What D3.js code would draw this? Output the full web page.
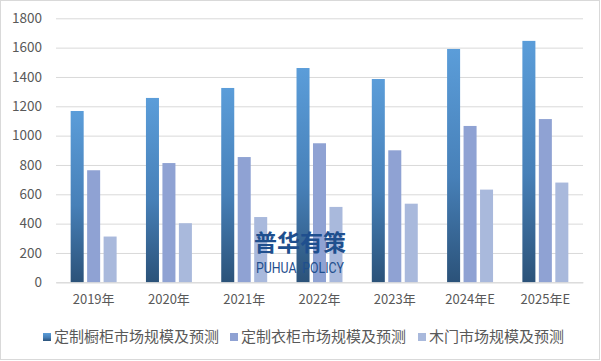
<!DOCTYPE html>
<html><head><meta charset="utf-8">
<script src="https://cdn.jsdelivr.net/npm/d3@7"></script>
<style>body{margin:0;background:#fff}svg{display:block}</style>
</head><body>
<svg id="c" width="601" height="361"></svg>
<script>
const categories = ["2019年","2020年","2021年","2022年","2023年","2024年E","2025年E"];
const seriesNames = ["定制橱柜市场规模及预测","定制衣柜市场规模及预测","木门市场规模及预测"];
const cabinet = [1168, 1257, 1325, 1461, 1386, 1591, 1646];
const wardrobe = [764, 813, 854, 948, 900, 1066, 1113];
const woodDoor = [312, 403, 445, 514, 536, 632, 680];
const yTicks = [0,200,400,600,800,1000,1200,1400,1600,1800];
const seriesValues = [cabinet, wardrobe, woodDoor];
const colors = ["url(#g0)","#8fa2d3","#a9b9dc"];

(function(){
const svg = d3.select("#c");
const W = 601, H = 361;
svg.append("rect").attr("x",0.5).attr("y",0.5).attr("width",W-2).attr("height",H-2)
  .attr("fill","#fff").attr("stroke","#d9d9d9");

const defs = svg.append("defs");
const g0 = defs.append("linearGradient").attr("id","g0").attr("x1",0).attr("y1",0).attr("x2",0).attr("y2",1);
g0.append("stop").attr("offset","0%").attr("stop-color","#5b9dd9");
g0.append("stop").attr("offset","55%").attr("stop-color","#4780b8");
g0.append("stop").attr("offset","100%").attr("stop-color","#2b5279");

const pL = 56, pR = 583, pT = 18.3, pB = 282.3;
const y = d3.scaleLinear().domain([0,1800]).range([pB, pT]);
const x0 = d3.scaleBand().domain(categories).range([pL,pR]).padding(0);
const x1 = d3.scaleBand().domain(d3.range(3)).range([0,x0.bandwidth()]).paddingInner(0.21).paddingOuter(0.89);

const font = "'Noto Sans CJK SC', 'Liberation Sans', sans-serif";

const yAxis = d3.axisLeft(y).tickValues(yTicks).tickSize(-(pR-pL)).tickPadding(14).tickFormat(d3.format("d"));
const ya = svg.append("g").attr("transform",`translate(${pL},0)`).call(yAxis);
ya.select(".domain").remove();
ya.selectAll(".tick line").attr("stroke","#d9d9d9").attr("stroke-width",1);
ya.selectAll(".tick text").attr("fill","#595959").style("font-family",font).style("font-size","13.5px");

categories.forEach((c,i)=>{
  const g = svg.append("g").attr("transform",`translate(${x0(c)},0)`);
  seriesValues.forEach((vals,s)=>{
    g.append("rect").attr("x",x1(s)).attr("width",x1.bandwidth())
      .attr("y",y(vals[i])).attr("height",y(0)-y(vals[i])).attr("fill",colors[s]);
  });
});

const xAxis = d3.axisBottom(x0).tickSize(0).tickPadding(12);
const xa = svg.append("g").attr("transform",`translate(0,${pB})`).call(xAxis);
xa.select(".domain").attr("stroke","#d9d9d9");
xa.selectAll(".tick text").attr("fill","#595959").style("font-family",font).style("font-size","13px");

svg.append("text").attr("x",300).attr("y",251).attr("text-anchor","middle")
  .attr("fill","#1f4f8e").style("font-family","'Noto Sans CJK SC'").style("font-weight","bold")
  .style("font-size","23px").text("普华有策");
svg.append("text").attr("x",300).attr("y",273).attr("text-anchor","middle")
  .attr("fill","#1f4f8e").style("font-family","'Roboto','Liberation Sans',sans-serif")
  .style("font-size","14px").style("word-spacing","3px")
  .attr("textLength",88).attr("lengthAdjust","spacingAndGlyphs").text("PUHUA POLICY");

const legendX = [43, 230, 418];
const lg = svg.append("g");
seriesNames.forEach((n,s)=>{
  lg.append("rect").attr("x",legendX[s]).attr("y",333).attr("width",8).attr("height",8).attr("fill",colors[s]);
  lg.append("text").attr("x",legendX[s]+11).attr("y",337).attr("dy","0.35em")
    .attr("fill","#595959").style("font-family",font).style("font-size","15px").text(n);
});
})();
</script>
</body></html>
